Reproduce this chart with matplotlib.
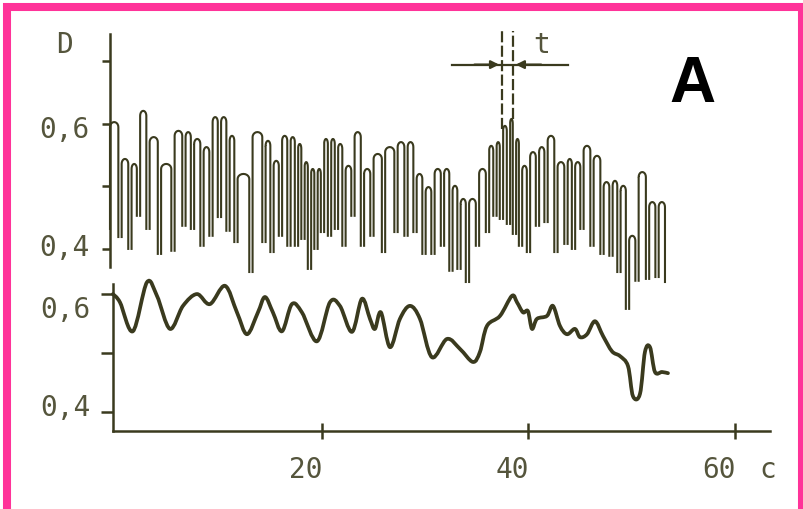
import matplotlib.pyplot as plt
import numpy as np
from matplotlib.patches import Rectangle, PathPatch
from matplotlib.path import Path
from matplotlib.transforms import ScaledTranslation

INK = '#3a3a1e'
TXT = '#55553c'
PINK = '#ff3399'
MONO = 'DejaVu Sans Mono'

# upper record: pen spikes (time, s / lowest D) and the rounded tops between them
spike_t = [-0.53, 0.44, 1.40, 2.23, 3.15, 4.26, 5.57, 6.63, 7.46, 8.38,
           9.25, 10.07, 10.90, 11.67, 13.12, 14.38, 15.16, 15.98, 16.80, 17.53,
           18.16, 18.79, 19.42, 20.05, 20.73, 21.40, 22.13, 23.00, 23.92, 24.84,
           25.96, 27.17, 28.14, 29.01, 29.88, 30.75, 31.67, 32.49, 33.27, 34.09,
           35.06, 36.03, 36.75, 37.38, 38.06, 38.64, 39.23, 40.00, 40.87, 41.70,
           42.66, 43.63, 44.36, 45.18, 46.15, 47.12, 47.99, 48.76, 49.59, 50.51,
           51.53, 52.45, 53.22]
spike_low = [0.432, 0.419, 0.400, 0.453, 0.432, 0.392, 0.397, 0.437, 0.432, 0.405,
             0.421, 0.451, 0.429, 0.411, 0.363, 0.411, 0.395, 0.421, 0.405, 0.405,
             0.416, 0.368, 0.400, 0.427, 0.421, 0.432, 0.405, 0.453, 0.405, 0.421,
             0.395, 0.427, 0.421, 0.427, 0.392, 0.392, 0.405, 0.365, 0.368, 0.347,
             0.405, 0.427, 0.453, 0.448, 0.440, 0.424, 0.405, 0.395, 0.437, 0.443,
             0.395, 0.408, 0.400, 0.432, 0.405, 0.392, 0.389, 0.363, 0.304, 0.349,
             0.352, 0.355, 0.347]
cap_top = [0.603, 0.544, 0.536, 0.621, 0.579, 0.536, 0.589, 0.587, 0.576, 0.563,
           0.611, 0.611, 0.581, 0.520, 0.587, 0.573, 0.541, 0.581, 0.579, 0.568,
           0.539, 0.528, 0.528, 0.576, 0.576, 0.568, 0.533, 0.587, 0.528, 0.552,
           0.563, 0.571, 0.571, 0.520, 0.499, 0.528, 0.528, 0.501, 0.480, 0.480,
           0.528, 0.565, 0.571, 0.597, 0.608, 0.576, 0.533, 0.555, 0.563, 0.581,
           0.539, 0.544, 0.539, 0.565, 0.549, 0.507, 0.509, 0.501, 0.421, 0.523,
           0.475, 0.475]

# lower record (smoothed)
smooth_t = [-0.24, 0.44, 1.69, 3.05, 4.02, 5.28, 6.54, 7.89, 9.15, 10.61,
            11.77, 12.74, 13.80, 14.48, 15.25, 16.13, 17.09, 18.06, 19.52, 20.77,
            21.74, 22.91, 23.87, 24.65, 25.13, 25.71, 26.59, 27.55, 28.52, 29.49,
            30.65, 32.11, 33.37, 34.62, 35.30, 35.98, 37.24, 38.40, 38.89, 39.47,
            39.95, 40.34, 40.82, 41.79, 42.37, 43.05, 43.73, 44.50, 44.99, 45.67,
            46.44, 47.22, 48.09, 48.86, 49.64, 50.12, 50.80, 51.28, 51.77, 52.25,
            52.93, 53.51]
smooth_d = [0.600, 0.586, 0.537, 0.620, 0.597, 0.541, 0.580, 0.600, 0.583, 0.614,
            0.569, 0.532, 0.569, 0.595, 0.569, 0.537, 0.583, 0.569, 0.520, 0.586,
            0.580, 0.536, 0.592, 0.558, 0.541, 0.569, 0.510, 0.558, 0.580, 0.558,
            0.493, 0.524, 0.507, 0.485, 0.502, 0.546, 0.563, 0.597, 0.586, 0.569,
            0.571, 0.541, 0.558, 0.563, 0.580, 0.546, 0.532, 0.541, 0.527, 0.532,
            0.554, 0.529, 0.503, 0.495, 0.478, 0.427, 0.431, 0.502, 0.510, 0.468,
            0.468, 0.466]

x_ticks = [20, 40, 60]
x_labels = ['20', '40', '60']
t_marks = [37.43, 38.50]
t_mark_low = [0.592, 0.608]

fig = plt.figure(figsize=(8.04, 5.10), dpi=100)
ax_up = fig.add_axes([0.1368, 0.4745, 0.8209, 0.4569])
ax_lo = fig.add_axes([0.1405, 0.1529, 0.8172, 0.2882])

# upper record: every beat is an open "n" whose legs drop to the spike minima
xs, ys = [], []
r = 0.008
g = 0.16
n = len(cap_top)
for k in range(n):
    t0, t1 = spike_t[k], spike_t[k + 1]
    a = t0 + (g if k > 0 else 0)
    b = t1 - (g if k < n - 1 else 0)
    xs += [a, a]
    ys += [spike_low[k], cap_top[k] - r]
    ang = np.linspace(np.pi, 0, 11)
    mid, w = (a + b) / 2, (b - a) / 2
    xs += list(mid + w * np.cos(ang))
    ys += list(cap_top[k] - r + r * np.sin(ang))
    xs += [b, np.nan]
    ys += [spike_low[k + 1], np.nan]
ax_up.plot(xs, ys, color=INK, lw=1.5, solid_joinstyle='round', clip_on=False)

# lower record drawn as a smooth pen line through the read points (Catmull-Rom -> Bezier)
pts = np.column_stack([smooth_t, smooth_d])
ext = np.vstack([pts[0], pts, pts[-1]])
verts = [tuple(pts[0])]
codes = [Path.MOVETO]
for i in range(1, len(ext) - 2):
    p0, p1, p2, p3 = ext[i - 1], ext[i], ext[i + 1], ext[i + 2]
    verts += [tuple(p1 + (p2 - p0) / 6), tuple(p2 - (p3 - p1) / 6), tuple(p2)]
    codes += [Path.CURVE4] * 3
ax_lo.add_patch(PathPatch(Path(verts, codes), fill=False, edgecolor=INK, lw=2.7,
                          capstyle='round', joinstyle='round', clip_on=False))

# axes styling
ax_up.set_xlim(-0.53, 63.39)
ax_up.set_ylim(0.371, 0.744)
ax_lo.set_xlim(-0.24, 63.39)
ax_lo.set_ylim(0.368, 0.617)
for ax in (ax_up, ax_lo):
    ax.patch.set_visible(False)
    for s in ('top', 'right'):
        ax.spines[s].set_visible(False)
    for s in ('left', 'bottom'):
        ax.spines[s].set_linewidth(1.8)
        ax.spines[s].set_color(INK)
ax_up.spines['bottom'].set_visible(False)
ax_up.set_xticks([])

ax_up.set_yticks([0.4, 0.5, 0.6, 0.7])
ax_up.set_yticklabels(['0,4', '', '0,6', ''])
ax_lo.set_yticks([0.4, 0.5, 0.6])
ax_lo.set_yticklabels(['0,4', '', '0,6'])
ax_up.tick_params(axis='y', direction='out', length=6, width=1.8, color=INK,
                  pad=9, labelsize=20, labelcolor=TXT)
ax_lo.tick_params(axis='y', direction='out', length=9, width=1.8, color=INK,
                  pad=7, labelsize=20, labelcolor=TXT)
ax_lo.set_xticks(x_ticks)
ax_lo.set_xticklabels(x_labels)
ax_lo.tick_params(axis='x', direction='inout', length=11, width=1.8, color=INK,
                  pad=12, labelsize=20, labelcolor=TXT)
for ax in (ax_up, ax_lo):
    for lab in ax.get_yticklabels() + ax.get_xticklabels():
        lab.set_family(MONO)

# hand-lettered labels sit a little off their ticks
shift = ScaledTranslation
for lab in ax_lo.get_xticklabels():
    lab.set_transform(lab.get_transform() + shift(-0.16, 0, fig.dpi_scale_trans))
up_labs = ax_up.get_yticklabels()
up_labs[0].set_transform(up_labs[0].get_transform() + shift(0, 0.05, fig.dpi_scale_trans))
up_labs[2].set_transform(up_labs[2].get_transform() + shift(0, -0.02, fig.dpi_scale_trans))
lo_labs = ax_lo.get_yticklabels()
lo_labs[0].set_transform(lo_labs[0].get_transform() + shift(0, 0.08, fig.dpi_scale_trans))
lo_labs[2].set_transform(lo_labs[2].get_transform() + shift(0, -0.12, fig.dpi_scale_trans))

ax_up.text(-4.9, 0.728, 'D', family=MONO, fontsize=20, color=TXT,
           ha='center', va='center', clip_on=False)
ax_lo.annotate('c', xy=(1, 0), xycoords='axes fraction', xytext=(-2, -38),
               textcoords='offset pixels', family=MONO, fontsize=20, color=TXT,
               ha='center', va='center')

# interval t marker
for tm, lo in zip(t_marks, t_mark_low):
    ax_up.plot([tm, tm], [lo, 0.749], color=INK, lw=1.6, ls=(0, (5, 1.5)),
               clip_on=False)
ax_up.plot([32.6, 43.8], [0.695, 0.695], color=INK, lw=1.6, clip_on=False)
ax_up.annotate('', xy=(t_marks[0], 0.695), xytext=(34.5, 0.695),
               arrowprops=dict(arrowstyle='-|>', color=INK, lw=1.6, mutation_scale=12))
ax_up.annotate('', xy=(t_marks[1], 0.695), xytext=(41.5, 0.695),
               arrowprops=dict(arrowstyle='-|>', color=INK, lw=1.6, mutation_scale=12))
ax_up.text(41.3, 0.728, 't', family=MONO, fontsize=20, color=TXT,
           ha='center', va='center', clip_on=False)

fig.text(692 / 804, 0.8, 'A', family='Liberation Sans', weight='bold',
         fontsize=46, color='black', ha='center', va='baseline')

fig.patches.append(Rectangle((0.0087, -0.002), 0.9888, 0.9863, transform=fig.transFigure,
                             fill=False, edgecolor=PINK, lw=5.8, zorder=10))

fig.savefig('out.png', dpi=100)
